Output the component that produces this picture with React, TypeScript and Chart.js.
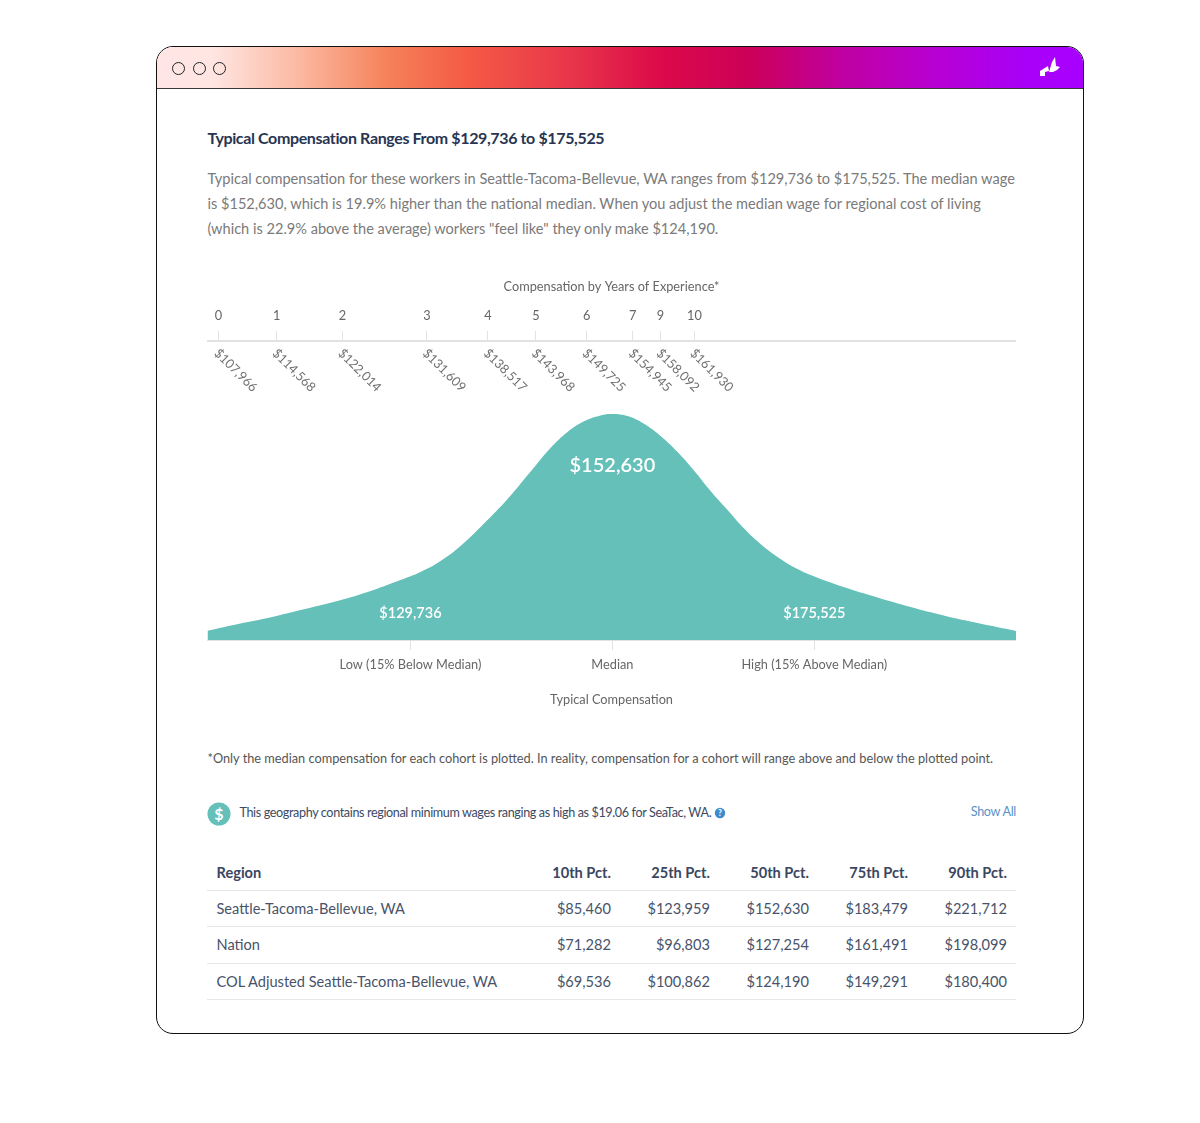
import React, { useEffect, useRef } from "react";
import { Chart, registerables } from "chart.js";

Chart.register(...registerables);

const curveSalaries = [106730, 109678, 113533, 117275, 121016, 124871, 128612, 130880, 133148, 135415, 138023, 140744, 143692, 145619, 147547, 149361, 151288, 152649, 154349, 156163, 158091, 160018, 161832, 163760, 165687, 167501, 169429, 171356, 173171, 175098, 178840, 182695, 186436, 190178, 194033, 198450];
const curveDensity = [9.3, 15, 22, 30, 38, 48, 60, 68, 79, 94, 116, 141, 172, 192, 208, 218.5, 224.5, 226, 224, 216.5, 204, 188, 170, 149, 130, 112, 96, 83, 73, 65, 53, 42.5, 33, 24.5, 17, 9];

const years = ["0", "1", "2", "3", "4", "5", "6", "7", "9", "10"];
const yearSalaries = [107966, 114568, 122014, 131609, 138517, 143968, 149725, 154945, 158092, 161930];

const rangeSalaries = [129736, 152630, 175525];
const rangeLabels = ["Low (15% Below Median)", "Median", "High (15% Above Median)"];

const tableHead = ["Region", "10th Pct.", "25th Pct.", "50th Pct.", "75th Pct.", "90th Pct."];
const rowSeattle = ["Seattle-Tacoma-Bellevue, WA", "$85,460", "$123,959", "$152,630", "$183,479", "$221,712"];
const rowNation = ["Nation", "$71,282", "$96,803", "$127,254", "$161,491", "$198,099"];
const rowCol = ["COL Adjusted Seattle-Tacoma-Bellevue, WA", "$69,536", "$100,862", "$124,190", "$149,291", "$180,400"];
const tableRows = [rowSeattle, rowNation, rowCol];

const paragraph = [
  "Typical compensation for these workers in Seattle-Tacoma-Bellevue, WA ranges from $129,736 to $175,525. The median wage",
  "is $152,630, which is 19.9% higher than the national median. When you adjust the median wage for regional cost of living",
  '(which is 22.9% above the average) workers "feel like" they only make $124,190.',
];

const FONT = "Lato, 'Open Sans', sans-serif";
const money = (v: number) => "$" + v.toLocaleString("en-US");

const labelsPlugin = {
  id: "salaryLabels",
  afterDatasetsDraw(chart: any) {
    const { ctx, scales } = chart;
    ctx.save();
    // rotated salaries below the top axis
    ctx.fillStyle = "#6f6f6f";
    ctx.font = `12.75px ${FONT}`;
    ctx.textAlign = "left";
    ctx.textBaseline = "middle";
    yearSalaries.forEach((s) => {
      ctx.save();
      ctx.translate(scales.x2.getPixelForValue(s) - 2, scales.x2.bottom + 10);
      ctx.rotate(Math.PI / 4);
      ctx.fillText(money(s), 0, 0);
      ctx.restore();
    });
    // values inside the area
    ctx.fillStyle = "#ffffff";
    ctx.textAlign = "center";
    rangeSalaries.forEach((s, i) => {
      ctx.font = i === 1 ? `600 20px ${FONT}` : `600 14.5px ${FONT}`;
      const y = i === 1 ? scales.y.getPixelForValue(174) : scales.y.getPixelForValue(27);
      ctx.fillText(money(s), scales.x.getPixelForValue(s), y);
    });
    ctx.restore();
  },
};

function SalaryChart() {
  const ref = useRef<HTMLCanvasElement>(null);
  useEffect(() => {
    const axisColor = "#e2e2e2";
    const tickFont = { family: FONT, size: 12.75 };
    const chart = new Chart(ref.current!, {
      type: "line",
      data: {
        datasets: [
          {
            data: curveSalaries.map((x, i) => ({ x, y: curveDensity[i] })),
            backgroundColor: "#64c0b8",
            borderWidth: 0,
            pointRadius: 0,
            fill: "origin",
            tension: 0.4,
          },
        ],
      },
      options: {
        responsive: false,
        animation: false,
        layout: { padding: 0 },
        plugins: { legend: { display: false }, tooltip: { enabled: false } },
        scales: {
          y: { display: false, min: 0, max: 299 },
          x: {
            type: "linear",
            position: "bottom",
            min: 106670,
            max: 198390,
            afterBuildTicks: (s: any) => {
              s.ticks = rangeSalaries.map((value) => ({ value }));
            },
            afterFit: (s: any) => {
              s.height = 70;
              s.paddingLeft = 0;
              s.paddingRight = 0;
            },
            grid: { drawOnChartArea: false, tickLength: 10, tickColor: axisColor, tickWidth: 1 },
            border: { color: axisColor, width: 1 },
            ticks: {
              autoSkip: false,
              maxRotation: 0,
              minRotation: 0,
              padding: 7,
              color: "#666666",
              font: tickFont,
              callback: (_v: any, i: number) => rangeLabels[i],
            },
            title: {
              display: true,
              text: "Typical Compensation",
              color: "#666666",
              font: tickFont,
              padding: { top: 0, bottom: 2 },
            },
          },
          x2: {
            type: "linear",
            position: "top",
            min: 106670,
            max: 198390,
            afterBuildTicks: (s: any) => {
              s.ticks = yearSalaries.map((value) => ({ value }));
            },
            afterFit: (s: any) => {
              s.height = 66;
              s.paddingLeft = 0;
              s.paddingRight = 0;
            },
            grid: { drawOnChartArea: false, tickLength: 10, tickColor: axisColor, tickWidth: 1 },
            border: { color: axisColor, width: 2 },
            ticks: {
              autoSkip: false,
              maxRotation: 0,
              minRotation: 0,
              padding: 7,
              color: "#666666",
              font: tickFont,
              callback: (_v: any, i: number) => years[i],
            },
            title: {
              display: true,
              text: "Compensation by Years of Experience*",
              color: "#666666",
              font: tickFont,
              padding: { top: 4, bottom: 0 },
            },
          },
        },
      },
      plugins: [labelsPlugin],
    } as any);
    return () => chart.destroy();
  }, []);
  return (
    <canvas
      ref={ref}
      width={809}
      height={435}
      style={{ position: "absolute", left: 207, top: 275, width: 809, height: 435 }}
    />
  );
}

const abs = (left: number, centerY: number, extra: React.CSSProperties = {}): React.CSSProperties => ({
  position: "absolute",
  left,
  top: centerY - 12,
  height: 24,
  lineHeight: "24px",
  whiteSpace: "nowrap",
  ...extra,
});

const colRight = [611, 710, 809, 908, 1007];
const rowY = [908.5, 945, 981.5];
const ruleY = [890, 926, 963, 999];

export default function App() {
  return (
    <div style={{ position: "absolute", left: 0, top: 0, width: 1200, height: 1123, background: "#fff", fontFamily: FONT, overflow: "hidden" }}>
      {/* window frame */}
      <div style={{ position: "absolute", left: 156, top: 46, width: 926, height: 986, border: "1px solid #111", borderRadius: 17, overflow: "hidden" }}>
        <div
          style={{
            position: "absolute",
            left: 0,
            top: 0,
            width: 926,
            height: 41,
            borderBottom: "1px solid #3a3a3a",
            background:
              "linear-gradient(90deg, #ffe6e6 0px, #ffe6e2 55px, #fbb8a0 143px, #f58058 233px, #f45a45 311px, #e8364a 413px, #dc0a4a 503px, #cc0058 593px, #c000a0 683px, #b800d0 773px, #a800f8 870px, #a800ff 926px)",
          }}
        />
      </div>
      {[178.5, 199, 219].map((cx) => (
        <div key={cx} style={{ position: "absolute", left: cx - 6.5, top: 61.5, width: 13, height: 13, boxSizing: "border-box", border: "1.3px solid #222", borderRadius: "50%" }} />
      ))}
      <svg style={{ position: "absolute", left: 1035, top: 52, width: 30, height: 30 }} viewBox="1035 52 30 30">
        <polygon points="1040,76 1040,71 1048,66 1049,71 1045,72 1045,76" fill="#fff" />
        <polygon points="1049,72 1052,62 1055,57 1056,66 1060,67 1057,70 1053,72" fill="#fff" />
      </svg>

      <div style={abs(207.5, 137.5, { fontSize: 16, fontWeight: 700, color: "#283552", letterSpacing: -0.37 })}>
        Typical Compensation Ranges From $129,736 to $175,525
      </div>
      {paragraph.map((line, i) => (
        <div key={i} style={abs(207.5, 178.5 + i * 25, { fontSize: 14.57, color: "#7a7a7a" })}>
          {line}
        </div>
      ))}

      <SalaryChart />

      <div style={abs(207.5, 757.5, { fontSize: 12.75, color: "#555" })}>
        *Only the median compensation for each cohort is plotted. In reality, compensation for a cohort will range above and below the plotted point.
      </div>

      <svg style={{ position: "absolute", left: 207, top: 802, width: 24, height: 24 }} viewBox="0 0 24 24">
        <circle cx="12" cy="12" r="11.5" fill="#64c0b8" />
        <text x="12" y="17.5" textAnchor="middle" fontSize="16" fontWeight="700" fill="#fff" fontFamily={FONT}>$</text>
      </svg>
      <div style={abs(239.5, 812.5, { fontSize: 12.6, color: "#3c4a63", letterSpacing: -0.37 })}>
        This geography contains regional minimum wages ranging as high as $19.06 for SeaTac, WA.
      </div>
      <svg style={{ position: "absolute", left: 714, top: 807, width: 12, height: 12 }} viewBox="0 0 12 12">
        <circle cx="6" cy="6" r="5.2" fill="#3d8bcb" />
        <text x="6" y="9" textAnchor="middle" fontSize="8.5" fontWeight="700" fill="#fff" fontFamily={FONT}>?</text>
      </svg>
      <div style={abs(0, 811.5, { left: "auto", right: 184, fontSize: 12.6, color: "#5b93c7", letterSpacing: -0.3 })}>Show All</div>

      {/* table */}
      {ruleY.map((y) => (
        <div key={y} style={{ position: "absolute", left: 207, width: 809, top: y, height: 1, background: "#e6e6e6" }} />
      ))}
      <div style={abs(216.5, 872.5, { fontSize: 14.6, fontWeight: 700, color: "#3a4660" })}>{tableHead[0]}</div>
      {tableHead.slice(1).map((h, c) => (
        <div key={h} style={abs(0, 872.5, { left: "auto", right: 1200 - colRight[c], fontSize: 14.6, fontWeight: 700, color: "#3a4660" })}>{h}</div>
      ))}
      {tableRows.map((row, r) => (
        <React.Fragment key={r}>
          <div style={abs(216.5, rowY[r], { fontSize: 14.6, color: "#48536a" })}>{row[0]}</div>
          {row.slice(1).map((v, c) => (
            <div key={c} style={abs(0, rowY[r], { left: "auto", right: 1200 - colRight[c], fontSize: 14.6, color: "#48536a" })}>{v}</div>
          ))}
        </React.Fragment>
      ))}
    </div>
  );
}
